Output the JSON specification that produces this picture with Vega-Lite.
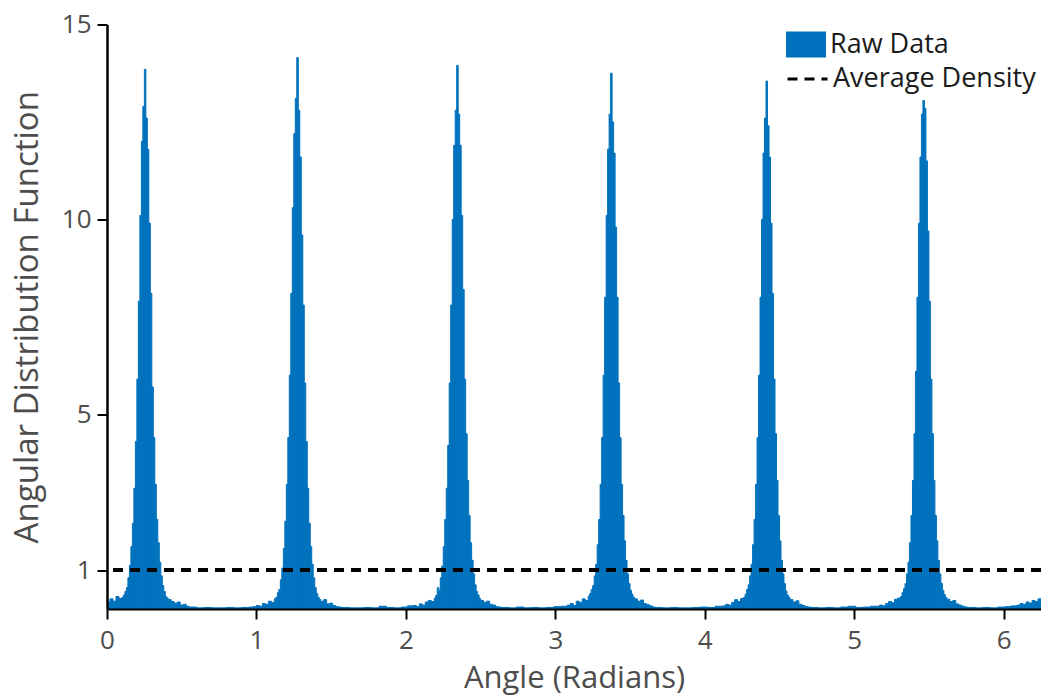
{
"$schema": "https://vega.github.io/schema/vega-lite/v6.json",
"width": 934, "height": 584.5,
"autosize": {"type": "none"},
"padding": {"left": 107, "top": 24.5, "right": 0, "bottom": 89},
"config": {"view": {"stroke": null}, "font": "Open Sans"},
"data": {"values": [
{"a":0,"b":0.02,"v":0.18},{"a":0.02,"b":0.04,"v":0.26},{"a":0.04,"b":0.06,"v":0.2},{"a":0.06,"b":0.08,"v":0.32},{"a":0.08,"b":0.1,"v":0.27},
{"a":0.1,"b":0.11,"v":0.3},{"a":0.11,"b":0.12,"v":0.36},{"a":0.12,"b":0.13,"v":0.45},{"a":0.13,"b":0.14,"v":0.55},{"a":0.14,"b":0.15,"v":0.8},{"a":0.15,"b":0.16,"v":1.12},{"a":0.16,"b":0.17,"v":1.6},{"a":0.17,"b":0.18,"v":2.2},{"a":0.18,"b":0.19,"v":3.1},{"a":0.19,"b":0.2,"v":4.3},{"a":0.2,"b":0.21,"v":5.9},{"a":0.21,"b":0.22,"v":7.9},{"a":0.22,"b":0.23,"v":10.1},{"a":0.23,"b":0.24,"v":12.0},{"a":0.24,"b":0.25,"v":12.9},
{"a":0.25,"b":0.26,"v":13.85},
{"a":0.26,"b":0.27,"v":12.6},{"a":0.27,"b":0.28,"v":11.8},{"a":0.28,"b":0.29,"v":9.9},{"a":0.29,"b":0.3,"v":8.1},{"a":0.3,"b":0.31,"v":5.7},{"a":0.31,"b":0.32,"v":4.4},{"a":0.32,"b":0.33,"v":3.2},{"a":0.33,"b":0.34,"v":2.3},{"a":0.34,"b":0.35,"v":1.7},{"a":0.35,"b":0.36,"v":1.2},{"a":0.36,"b":0.37,"v":0.85},{"a":0.37,"b":0.38,"v":0.6},{"a":0.38,"b":0.39,"v":0.45},{"a":0.39,"b":0.4,"v":0.32},{"a":0.4,"b":0.41,"v":0.28},
{"a":0.41,"b":0.43,"v":0.24},{"a":0.43,"b":0.45,"v":0.19},{"a":0.45,"b":0.47,"v":0.15},{"a":0.47,"b":0.49,"v":0.18},{"a":0.49,"b":0.51,"v":0.1},{"a":0.51,"b":0.53,"v":0.12},{"a":0.53,"b":0.55,"v":0.07},
{"a":0.55,"b":0.6,"v":0.05},{"a":0.6,"b":0.65,"v":0.03},{"a":0.65,"b":0.7,"v":0.04},{"a":0.7,"b":0.75,"v":0.03},{"a":0.75,"b":0.8,"v":0.03},{"a":0.8,"b":0.85,"v":0.04},{"a":0.85,"b":0.9,"v":0.03},{"a":0.9,"b":0.95,"v":0.04},{"a":0.95,"b":0.98,"v":0.05},
{"a":0.98,"b":1.0,"v":0.06},{"a":1.0,"b":1.02,"v":0.09},{"a":1.02,"b":1.04,"v":0.07},{"a":1.04,"b":1.06,"v":0.14},{"a":1.06,"b":1.08,"v":0.12},{"a":1.08,"b":1.1,"v":0.2},{"a":1.1,"b":1.12,"v":0.17},
{"a":1.12,"b":1.13,"v":0.26},{"a":1.13,"b":1.14,"v":0.3},{"a":1.14,"b":1.15,"v":0.42},{"a":1.15,"b":1.16,"v":0.5},{"a":1.16,"b":1.17,"v":0.75},{"a":1.17,"b":1.18,"v":1.05},{"a":1.18,"b":1.19,"v":1.55},{"a":1.19,"b":1.2,"v":2.25},{"a":1.2,"b":1.21,"v":3.2},{"a":1.21,"b":1.22,"v":4.4},{"a":1.22,"b":1.23,"v":6.0},{"a":1.23,"b":1.24,"v":8.1},{"a":1.24,"b":1.25,"v":10.3},{"a":1.25,"b":1.26,"v":12.2},{"a":1.26,"b":1.27,"v":13.1},
{"a":1.27,"b":1.28,"v":14.15},
{"a":1.28,"b":1.29,"v":12.8},{"a":1.29,"b":1.3,"v":11.6},{"a":1.3,"b":1.31,"v":9.6},{"a":1.31,"b":1.32,"v":7.8},{"a":1.32,"b":1.33,"v":5.8},{"a":1.33,"b":1.34,"v":4.3},{"a":1.34,"b":1.35,"v":3.1},{"a":1.35,"b":1.36,"v":2.2},{"a":1.36,"b":1.37,"v":1.6},{"a":1.37,"b":1.38,"v":1.15},{"a":1.38,"b":1.39,"v":0.8},{"a":1.39,"b":1.4,"v":0.55},{"a":1.4,"b":1.41,"v":0.4},{"a":1.41,"b":1.42,"v":0.3},{"a":1.42,"b":1.43,"v":0.25},
{"a":1.43,"b":1.45,"v":0.2},{"a":1.45,"b":1.47,"v":0.24},{"a":1.47,"b":1.49,"v":0.13},{"a":1.49,"b":1.51,"v":0.15},{"a":1.51,"b":1.53,"v":0.09},{"a":1.53,"b":1.55,"v":0.06},{"a":1.55,"b":1.57,"v":0.05},
{"a":1.57,"b":1.62,"v":0.04},{"a":1.62,"b":1.67,"v":0.03},{"a":1.67,"b":1.72,"v":0.03},{"a":1.72,"b":1.77,"v":0.04},{"a":1.77,"b":1.82,"v":0.03},{"a":1.82,"b":1.87,"v":0.07},{"a":1.87,"b":1.92,"v":0.04},{"a":1.92,"b":1.97,"v":0.03},{"a":1.97,"b":2.01,"v":0.05},{"a":2.01,"b":2.05,"v":0.08},
{"a":2.05,"b":2.07,"v":0.09},{"a":2.07,"b":2.09,"v":0.06},{"a":2.09,"b":2.11,"v":0.13},{"a":2.11,"b":2.13,"v":0.1},{"a":2.13,"b":2.15,"v":0.18},{"a":2.15,"b":2.17,"v":0.22},{"a":2.17,"b":2.19,"v":0.19},
{"a":2.19,"b":2.2,"v":0.28},{"a":2.2,"b":2.21,"v":0.35},{"a":2.21,"b":2.22,"v":0.55},{"a":2.22,"b":2.23,"v":0.48},{"a":2.23,"b":2.24,"v":0.8},{"a":2.24,"b":2.25,"v":1.1},{"a":2.25,"b":2.26,"v":1.6},{"a":2.26,"b":2.27,"v":2.3},{"a":2.27,"b":2.28,"v":3.1},{"a":2.28,"b":2.29,"v":4.2},{"a":2.29,"b":2.3,"v":5.8},{"a":2.3,"b":2.31,"v":7.8},{"a":2.31,"b":2.32,"v":10.0},{"a":2.32,"b":2.33,"v":11.9},{"a":2.33,"b":2.34,"v":12.8},
{"a":2.34,"b":2.35,"v":13.95},
{"a":2.35,"b":2.36,"v":12.7},{"a":2.36,"b":2.37,"v":11.9},{"a":2.37,"b":2.38,"v":10.1},{"a":2.38,"b":2.39,"v":8.2},{"a":2.39,"b":2.4,"v":5.9},{"a":2.4,"b":2.41,"v":4.5},{"a":2.41,"b":2.42,"v":3.3},{"a":2.42,"b":2.43,"v":2.4},{"a":2.43,"b":2.44,"v":1.7},{"a":2.44,"b":2.45,"v":1.25},{"a":2.45,"b":2.46,"v":0.9},{"a":2.46,"b":2.47,"v":0.62},{"a":2.47,"b":2.48,"v":0.45},{"a":2.48,"b":2.49,"v":0.36},{"a":2.49,"b":2.5,"v":0.27},
{"a":2.5,"b":2.52,"v":0.22},{"a":2.52,"b":2.54,"v":0.17},{"a":2.54,"b":2.56,"v":0.2},{"a":2.56,"b":2.58,"v":0.12},{"a":2.58,"b":2.6,"v":0.1},{"a":2.6,"b":2.62,"v":0.06},{"a":2.62,"b":2.64,"v":0.05},
{"a":2.64,"b":2.69,"v":0.04},{"a":2.69,"b":2.74,"v":0.03},{"a":2.74,"b":2.79,"v":0.05},{"a":2.79,"b":2.84,"v":0.03},{"a":2.84,"b":2.89,"v":0.04},{"a":2.89,"b":2.94,"v":0.03},{"a":2.94,"b":2.99,"v":0.04},{"a":2.99,"b":3.04,"v":0.06},{"a":3.04,"b":3.08,"v":0.07},
{"a":3.08,"b":3.1,"v":0.1},{"a":3.1,"b":3.12,"v":0.14},{"a":3.12,"b":3.14,"v":0.09},{"a":3.14,"b":3.16,"v":0.2},{"a":3.16,"b":3.18,"v":0.17},{"a":3.18,"b":3.2,"v":0.26},{"a":3.2,"b":3.22,"v":0.22},
{"a":3.22,"b":3.23,"v":0.33},{"a":3.23,"b":3.24,"v":0.4},{"a":3.24,"b":3.25,"v":0.5},{"a":3.25,"b":3.26,"v":0.6},{"a":3.26,"b":3.27,"v":0.85},{"a":3.27,"b":3.28,"v":1.15},{"a":3.28,"b":3.29,"v":1.65},{"a":3.29,"b":3.3,"v":2.3},{"a":3.3,"b":3.31,"v":3.2},{"a":3.31,"b":3.32,"v":4.4},{"a":3.32,"b":3.33,"v":6.0},{"a":3.33,"b":3.34,"v":8.0},{"a":3.34,"b":3.35,"v":10.1},{"a":3.35,"b":3.36,"v":11.8},{"a":3.36,"b":3.37,"v":12.7},
{"a":3.37,"b":3.38,"v":13.75},
{"a":3.38,"b":3.39,"v":12.5},{"a":3.39,"b":3.4,"v":11.7},{"a":3.4,"b":3.41,"v":9.8},{"a":3.41,"b":3.42,"v":8.0},{"a":3.42,"b":3.43,"v":5.8},{"a":3.43,"b":3.44,"v":4.4},{"a":3.44,"b":3.45,"v":3.2},{"a":3.45,"b":3.46,"v":2.4},{"a":3.46,"b":3.47,"v":1.75},{"a":3.47,"b":3.48,"v":1.25},{"a":3.48,"b":3.49,"v":0.9},{"a":3.49,"b":3.5,"v":0.65},{"a":3.5,"b":3.51,"v":0.48},{"a":3.51,"b":3.52,"v":0.38},{"a":3.52,"b":3.53,"v":0.3},
{"a":3.53,"b":3.55,"v":0.26},{"a":3.55,"b":3.57,"v":0.2},{"a":3.57,"b":3.59,"v":0.23},{"a":3.59,"b":3.61,"v":0.14},{"a":3.61,"b":3.63,"v":0.11},{"a":3.63,"b":3.65,"v":0.08},{"a":3.65,"b":3.67,"v":0.05},
{"a":3.67,"b":3.72,"v":0.04},{"a":3.72,"b":3.77,"v":0.03},{"a":3.77,"b":3.82,"v":0.04},{"a":3.82,"b":3.87,"v":0.03},{"a":3.87,"b":3.92,"v":0.03},{"a":3.92,"b":3.97,"v":0.04},{"a":3.97,"b":4.02,"v":0.05},{"a":4.02,"b":4.07,"v":0.04},{"a":4.07,"b":4.12,"v":0.07},
{"a":4.12,"b":4.14,"v":0.08},{"a":4.14,"b":4.16,"v":0.12},{"a":4.16,"b":4.18,"v":0.1},{"a":4.18,"b":4.2,"v":0.17},{"a":4.2,"b":4.22,"v":0.24},{"a":4.22,"b":4.24,"v":0.19},{"a":4.24,"b":4.26,"v":0.27},
{"a":4.26,"b":4.27,"v":0.3},{"a":4.27,"b":4.28,"v":0.38},{"a":4.28,"b":4.29,"v":0.5},{"a":4.29,"b":4.3,"v":0.62},{"a":4.3,"b":4.31,"v":0.85},{"a":4.31,"b":4.32,"v":1.15},{"a":4.32,"b":4.33,"v":1.65},{"a":4.33,"b":4.34,"v":2.3},{"a":4.34,"b":4.35,"v":3.2},{"a":4.35,"b":4.36,"v":4.4},{"a":4.36,"b":4.37,"v":6.0},{"a":4.37,"b":4.38,"v":8.0},{"a":4.38,"b":4.39,"v":10.0},{"a":4.39,"b":4.4,"v":11.7},{"a":4.4,"b":4.41,"v":12.6},
{"a":4.41,"b":4.42,"v":13.55},
{"a":4.42,"b":4.43,"v":12.4},{"a":4.43,"b":4.44,"v":11.6},{"a":4.44,"b":4.45,"v":9.9},{"a":4.45,"b":4.46,"v":8.1},{"a":4.46,"b":4.47,"v":5.9},{"a":4.47,"b":4.48,"v":4.5},{"a":4.48,"b":4.49,"v":3.3},{"a":4.49,"b":4.5,"v":2.4},{"a":4.5,"b":4.51,"v":1.75},{"a":4.51,"b":4.52,"v":1.25},{"a":4.52,"b":4.53,"v":0.9},{"a":4.53,"b":4.54,"v":0.65},{"a":4.54,"b":4.55,"v":0.46},{"a":4.55,"b":4.56,"v":0.36},{"a":4.56,"b":4.57,"v":0.3},
{"a":4.57,"b":4.59,"v":0.24},{"a":4.59,"b":4.61,"v":0.18},{"a":4.61,"b":4.63,"v":0.21},{"a":4.63,"b":4.65,"v":0.12},{"a":4.65,"b":4.67,"v":0.09},{"a":4.67,"b":4.69,"v":0.06},{"a":4.69,"b":4.71,"v":0.05},
{"a":4.71,"b":4.76,"v":0.04},{"a":4.76,"b":4.81,"v":0.03},{"a":4.81,"b":4.86,"v":0.04},{"a":4.86,"b":4.91,"v":0.03},{"a":4.91,"b":4.96,"v":0.05},{"a":4.96,"b":5.01,"v":0.07},{"a":5.01,"b":5.06,"v":0.04},{"a":5.06,"b":5.11,"v":0.05},{"a":5.11,"b":5.17,"v":0.07},
{"a":5.17,"b":5.19,"v":0.1},{"a":5.19,"b":5.21,"v":0.08},{"a":5.21,"b":5.23,"v":0.14},{"a":5.23,"b":5.25,"v":0.19},{"a":5.25,"b":5.27,"v":0.16},{"a":5.27,"b":5.29,"v":0.25},{"a":5.29,"b":5.31,"v":0.28},
{"a":5.31,"b":5.32,"v":0.32},{"a":5.32,"b":5.33,"v":0.42},{"a":5.33,"b":5.34,"v":0.52},{"a":5.34,"b":5.35,"v":0.65},{"a":5.35,"b":5.36,"v":0.9},{"a":5.36,"b":5.37,"v":1.2},{"a":5.37,"b":5.38,"v":1.7},{"a":5.38,"b":5.39,"v":2.4},{"a":5.39,"b":5.4,"v":3.3},{"a":5.4,"b":5.41,"v":4.5},{"a":5.41,"b":5.42,"v":6.1},{"a":5.42,"b":5.43,"v":8.0},{"a":5.43,"b":5.44,"v":9.9},{"a":5.44,"b":5.45,"v":11.6},{"a":5.45,"b":5.46,"v":12.7},
{"a":5.46,"b":5.47,"v":13.05},
{"a":5.47,"b":5.48,"v":12.85},{"a":5.48,"b":5.49,"v":11.5},{"a":5.49,"b":5.5,"v":9.7},{"a":5.5,"b":5.51,"v":7.9},{"a":5.51,"b":5.52,"v":5.9},{"a":5.52,"b":5.53,"v":4.5},{"a":5.53,"b":5.54,"v":3.3},{"a":5.54,"b":5.55,"v":2.4},{"a":5.55,"b":5.56,"v":1.75},{"a":5.56,"b":5.57,"v":1.25},{"a":5.57,"b":5.58,"v":0.9},{"a":5.58,"b":5.59,"v":0.66},{"a":5.59,"b":5.6,"v":0.48},{"a":5.6,"b":5.61,"v":0.37},{"a":5.61,"b":5.62,"v":0.3},
{"a":5.62,"b":5.64,"v":0.25},{"a":5.64,"b":5.66,"v":0.19},{"a":5.66,"b":5.68,"v":0.22},{"a":5.68,"b":5.7,"v":0.13},{"a":5.7,"b":5.72,"v":0.1},{"a":5.72,"b":5.74,"v":0.07},{"a":5.74,"b":5.76,"v":0.05},
{"a":5.76,"b":5.81,"v":0.04},{"a":5.81,"b":5.86,"v":0.03},{"a":5.86,"b":5.91,"v":0.04},{"a":5.91,"b":5.96,"v":0.03},{"a":5.96,"b":6.01,"v":0.05},{"a":6.01,"b":6.05,"v":0.06},{"a":6.05,"b":6.09,"v":0.08},{"a":6.09,"b":6.11,"v":0.1},{"a":6.11,"b":6.13,"v":0.14},{"a":6.13,"b":6.15,"v":0.12},{"a":6.15,"b":6.17,"v":0.18},{"a":6.17,"b":6.19,"v":0.15},{"a":6.19,"b":6.21,"v":0.22},{"a":6.21,"b":6.23,"v":0.19},{"a":6.23,"b":6.25,"v":0.26}
]},
"layer": [
{
"mark": {"type": "bar", "stroke": "#0072BD", "strokeWidth": 1, "clip": true},
"encoding": {
"x": {"field": "a", "type": "quantitative",
"scale": {"domain": [0, 6.25], "nice": false, "zero": false},
"axis": {"values": [0,1,2,3,4,5,6], "format": "d", "title": "Angle (Radians)", "grid": false, "zindex": 1,
"domainColor": "black", "domainWidth": 2, "tickColor": "black", "tickWidth": 2, "tickSize": 10,
"labelFont": "Open Sans", "labelFontSize": 26, "labelColor": "#4d4d4d", "labelPadding": 8, "labelFlush": false,
"titleFont": "Open Sans", "titleFontSize": 31, "titleFontWeight": "normal", "titleColor": "#4d4d4d", "titlePadding": 10}},
"x2": {"field": "b"},
"y": {"field": "v", "type": "quantitative",
"scale": {"domain": [0, 15], "nice": false},
"axis": {"values": [1,5,10,15], "format": "d", "title": "Angular Distribution Function", "grid": false, "zindex": 1,
"domainColor": "black", "domainWidth": 2.5, "tickColor": "black", "tickWidth": 2, "tickSize": 10,
"labelFont": "Open Sans", "labelFontSize": 26, "labelColor": "#4d4d4d", "labelPadding": 6,
"titleFont": "Open Sans", "titleFontSize": 33, "titleFontWeight": "normal", "titleColor": "#4d4d4d", "titlePadding": 17}},
"y2": {"datum": 0},
"fill": {"datum": "Raw Data", "scale": {"domain": ["Raw Data"], "range": ["#0072BD"]},
"legend": {"orient": "none", "legendX": 679, "legendY": 0, "title": null, "padding": 0,
"symbolType": "M-1,-0.65L1,-0.65L1,0.65L-1,0.65Z", "symbolSize": 1600, "symbolStrokeWidth": 0,
"labelFont": "Open Sans", "labelFontSize": 27, "labelColor": "#1a1a1a", "labelOffset": 4, "labelLimit": 400}}
}
},
{
"mark": {"type": "rule", "color": "black", "strokeWidth": 3},
"encoding": {
"y": {"datum": 1},
"strokeDash": {"datum": "Average Density", "scale": {"domain": ["Average Density"], "range": [[10, 7]]},
"legend": {"orient": "none", "legendX": 679, "legendY": 33, "title": null, "padding": 0,
"symbolType": "stroke", "symbolSize": 1600, "symbolStrokeWidth": 3, "symbolStrokeColor": "black",
"labelFont": "Open Sans", "labelFontSize": 27, "labelColor": "#1a1a1a", "labelOffset": 4, "labelLimit": 400}}
}
}
]
}
